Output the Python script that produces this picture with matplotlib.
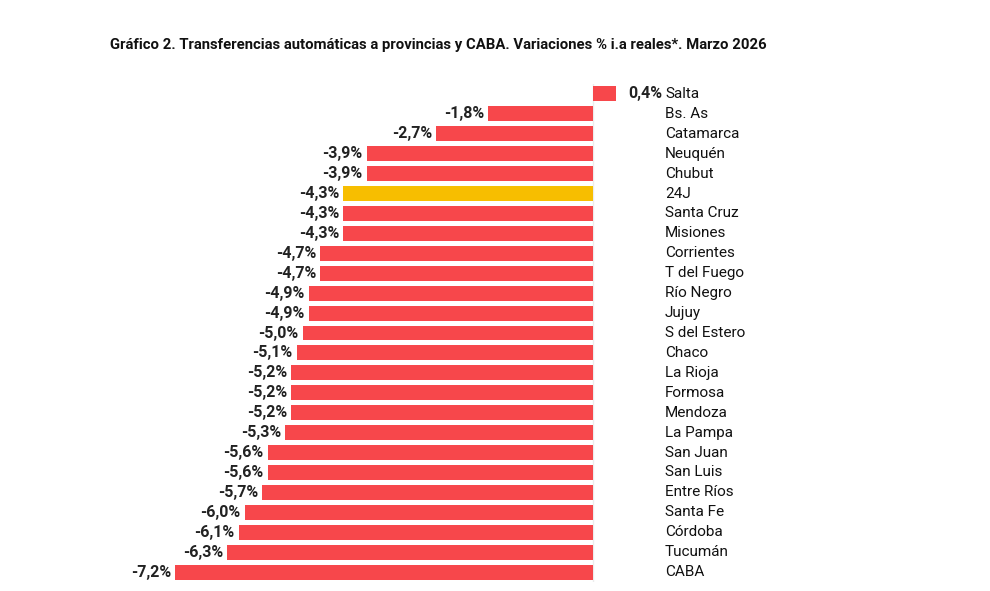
import matplotlib.pyplot as plt
from matplotlib import font_manager

provincias = ['Salta', 'Bs. As', 'Catamarca', 'Neuquén', 'Chubut', '24J', 'Santa Cruz',
              'Misiones', 'Corrientes', 'T del Fuego', 'Río Negro', 'Jujuy', 'S del Estero',
              'Chaco', 'La Rioja', 'Formosa', 'Mendoza', 'La Pampa', 'San Juan', 'San Luis',
              'Entre Ríos', 'Santa Fe', 'Córdoba', 'Tucumán', 'CABA']
variacion = [0.4, -1.8, -2.7, -3.9, -3.9, -4.3, -4.3, -4.3, -4.7, -4.7, -4.9, -4.9, -5.0,
             -5.1, -5.2, -5.2, -5.2, -5.3, -5.6, -5.6, -5.7, -6.0, -6.1, -6.3, -7.2]
destacado = '24J'

names = {f.name for f in font_manager.fontManager.ttflist}
fam = 'Liberation Sans Narrow' if 'Liberation Sans Narrow' in names else 'Roboto'
plt.rcParams['font.family'] = [fam, 'DejaVu Sans']

rojo = '#F7474B'
amarillo = '#F7BE00'
colores = [amarillo if p == destacado else rojo for p in provincias]

fig = plt.figure(figsize=(9.9, 5.91), dpi=100)
ax = fig.add_axes([100/990, 1 - 582/591, 800/990, 498/591])

y = range(len(provincias))
ax.barh(y, variacion, height=0.75, color=colores, zorder=2)
ax.axvline(0, color='#ececec', lw=1, zorder=1)

xmin = (100 - 593) / 58.06
xmax = (900 - 593) / 58.06
ax.set_xlim(xmin, xmax)
ax.set_ylim(len(provincias) - 0.5, -0.5)
xcat = (665 - 593) / 58.06

for i, (p, v) in enumerate(zip(provincias, variacion)):
    txt = f'{v:.1f}%'.replace('.', ',')
    ax.text(xcat, i, p, ha='left', va='center', fontsize=11, color='#111111')
    if v < 0:
        ax.text(v - 0.07, i, txt, ha='right', va='center', fontsize=11.5,
                fontweight='bold', color='#222222')
    else:
        ax.text(xcat - 0.05, i, txt, ha='right', va='center', fontsize=11.5,
                fontweight='bold', color='#222222')

ax.axis('off')

fig.text(110/990, 1 - 45/591, 'Gráfico 2. Transferencias automáticas a provincias y CABA. '
         'Variaciones % i.a reales*. Marzo 2026', ha='left', va='center',
         fontsize=10.7, fontweight='bold', color='#111111')

fig.savefig('out.png', dpi=100)
